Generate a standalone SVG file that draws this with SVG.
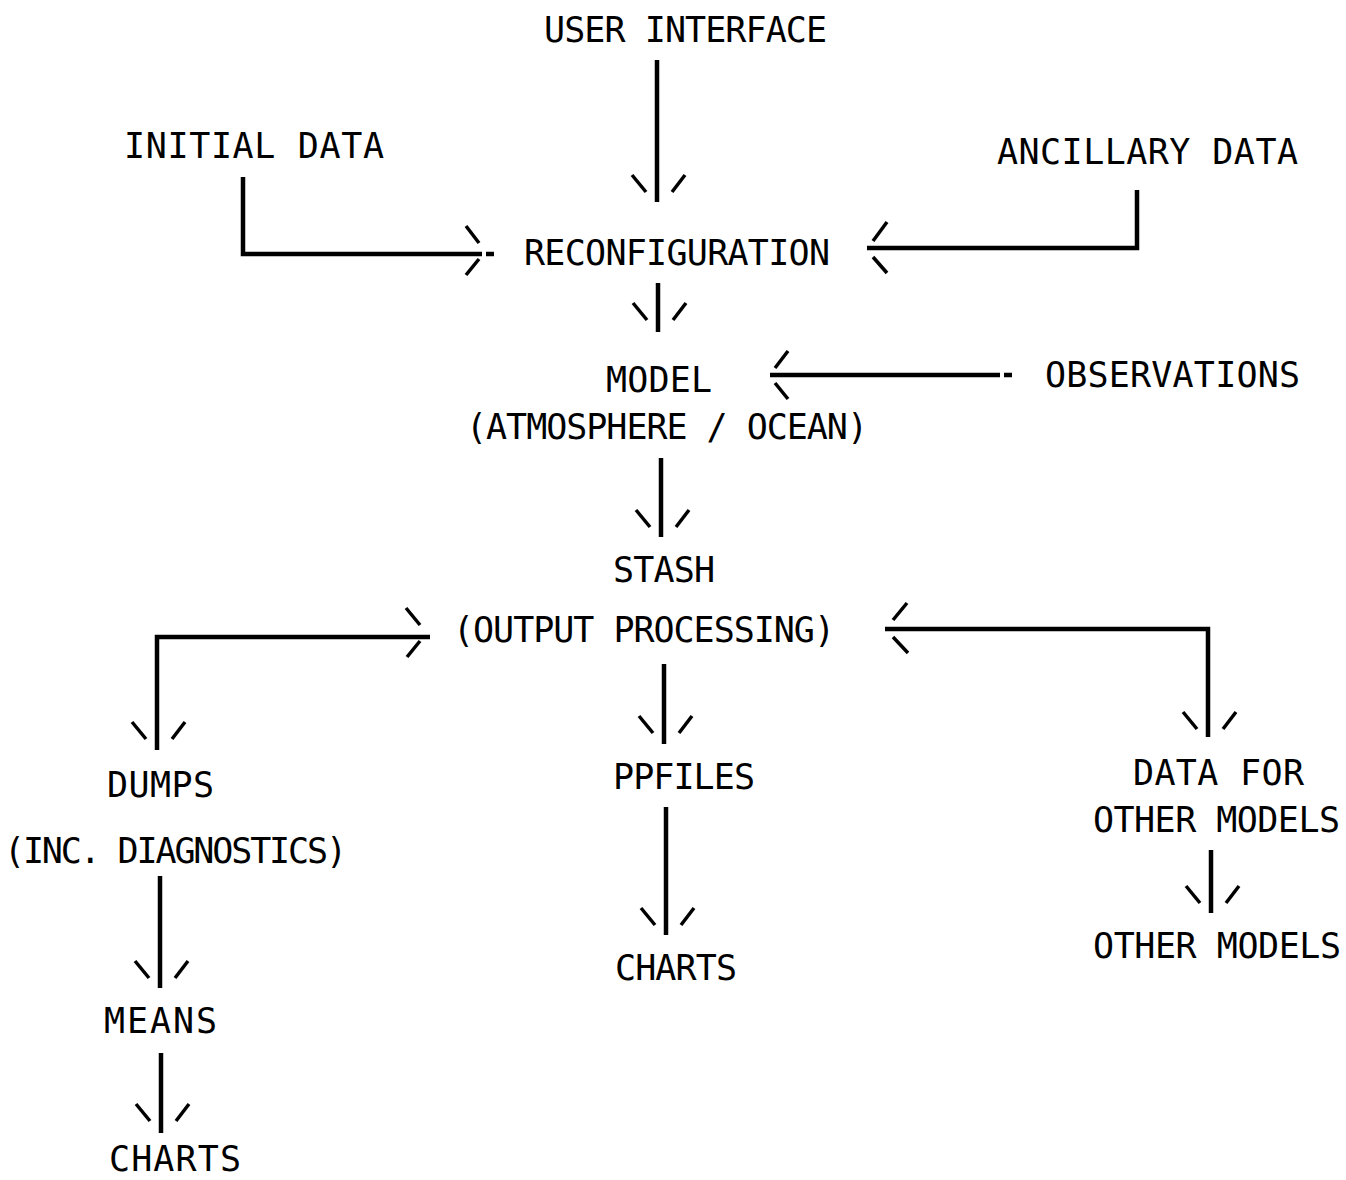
<svg xmlns="http://www.w3.org/2000/svg" width="1346" height="1180" viewBox="0 0 1346 1180">
<style>
.t{font-family:"DejaVu Sans Mono","Liberation Mono",monospace;font-size:35px;fill:#000}
.ln{stroke:#000;stroke-width:4.5;fill:none;stroke-linecap:butt;stroke-linejoin:miter}
.ah{stroke:#000;stroke-width:3.5;fill:none;stroke-linecap:butt}
</style>
<defs>
<g id="dn" class="ah"><line x1="-25" y1="0" x2="-11" y2="17"/><line x1="15" y1="17" x2="28" y2="0"/></g>
</defs>
<rect width="1346" height="1180" fill="#fff"/>
<g id="user-interface"><text class="t" x="544" y="42" textLength="283" lengthAdjust="spacing">USER INTERFACE</text></g>
<g id="initial-data"><text class="t" x="124" y="158" textLength="260" lengthAdjust="spacing">INITIAL DATA</text></g>
<g id="ancillary-data"><text class="t" x="997" y="164" textLength="301" lengthAdjust="spacing">ANCILLARY DATA</text></g>
<g id="reconfiguration"><text class="t" x="524" y="265" textLength="306" lengthAdjust="spacing">RECONFIGURATION</text></g>
<g id="model"><text class="t" x="606" y="392" textLength="106" lengthAdjust="spacing">MODEL</text><text class="t" x="466" y="439" textLength="402" lengthAdjust="spacing">(ATMOSPHERE / OCEAN)</text></g>
<g id="observations"><text class="t" x="1045" y="387" textLength="255" lengthAdjust="spacing">OBSERVATIONS</text></g>
<g id="stash"><text class="t" x="613" y="582" textLength="102" lengthAdjust="spacing">STASH</text><text class="t" x="453" y="642" textLength="382" lengthAdjust="spacing">(OUTPUT PROCESSING)</text></g>
<g id="dumps"><text class="t" x="107" y="797" textLength="107" lengthAdjust="spacing">DUMPS</text><text class="t" x="4" y="863" textLength="343" lengthAdjust="spacing">(INC. DIAGNOSTICS)</text></g>
<g id="means"><text class="t" x="104" y="1033" textLength="113" lengthAdjust="spacing">MEANS</text></g>
<g id="charts-left"><text class="t" x="109" y="1171" textLength="132" lengthAdjust="spacing">CHARTS</text></g>
<g id="ppfiles"><text class="t" x="613" y="789" textLength="142" lengthAdjust="spacing">PPFILES</text></g>
<g id="charts-mid"><text class="t" x="615" y="980" textLength="122" lengthAdjust="spacing">CHARTS</text></g>
<g id="data-for-other-models"><text class="t" x="1133" y="785" textLength="171" lengthAdjust="spacing">DATA FOR</text><text class="t" x="1093" y="832" textLength="247" lengthAdjust="spacing">OTHER MODELS</text></g>
<g id="other-models"><text class="t" x="1093" y="958" textLength="248" lengthAdjust="spacing">OTHER MODELS</text></g>
<g id="connectors">
<line class="ln" x1="657" y1="60" x2="657" y2="202"/>
<use href="#dn" x="657" y="175"/>
<polyline class="ln" points="243,177 243,254 482,254"/>
<line class="ln" x1="486" y1="254" x2="494" y2="254"/>
<g class="ah"><line x1="466" y1="226" x2="479" y2="243"/><line x1="479" y1="259" x2="466" y2="275"/></g>
<polyline class="ln" points="1137,190 1137,248 867,248"/>
<g class="ah"><line x1="887" y1="222" x2="873" y2="241"/><line x1="873" y1="257" x2="887" y2="273"/></g>
<line class="ln" x1="658" y1="283" x2="658" y2="332"/>
<use href="#dn" x="658" y="303"/>
<line class="ln" x1="770" y1="375" x2="1000" y2="375"/>
<line class="ln" x1="1004" y1="375" x2="1012" y2="375"/>
<g class="ah"><line x1="788" y1="351" x2="775" y2="368"/><line x1="775" y1="383" x2="788" y2="399"/></g>
<line class="ln" x1="661" y1="458" x2="661" y2="537"/>
<use href="#dn" x="661" y="510"/>
<polyline class="ln" points="157,750 157,637 430,637"/>
<g class="ah"><line x1="406" y1="608" x2="420" y2="625"/><line x1="420" y1="641" x2="407" y2="657"/></g>
<use href="#dn" x="157" y="722"/>
<polyline class="ln" points="885,629 1208,629 1208,737"/>
<g class="ah"><line x1="907" y1="603" x2="893" y2="620"/><line x1="893" y1="637" x2="908" y2="653"/></g>
<use href="#dn" x="1208" y="712"/>
<line class="ln" x1="664" y1="664" x2="664" y2="744"/>
<use href="#dn" x="664" y="716"/>
<line class="ln" x1="666" y1="807" x2="666" y2="935"/>
<use href="#dn" x="666" y="908"/>
<line class="ln" x1="160" y1="876" x2="160" y2="988"/>
<use href="#dn" x="160" y="961"/>
<line class="ln" x1="161" y1="1053" x2="161" y2="1133"/>
<use href="#dn" x="161" y="1104"/>
<line class="ln" x1="1211" y1="850" x2="1211" y2="913"/>
<use href="#dn" x="1211" y="886"/>
</g>
</svg>
